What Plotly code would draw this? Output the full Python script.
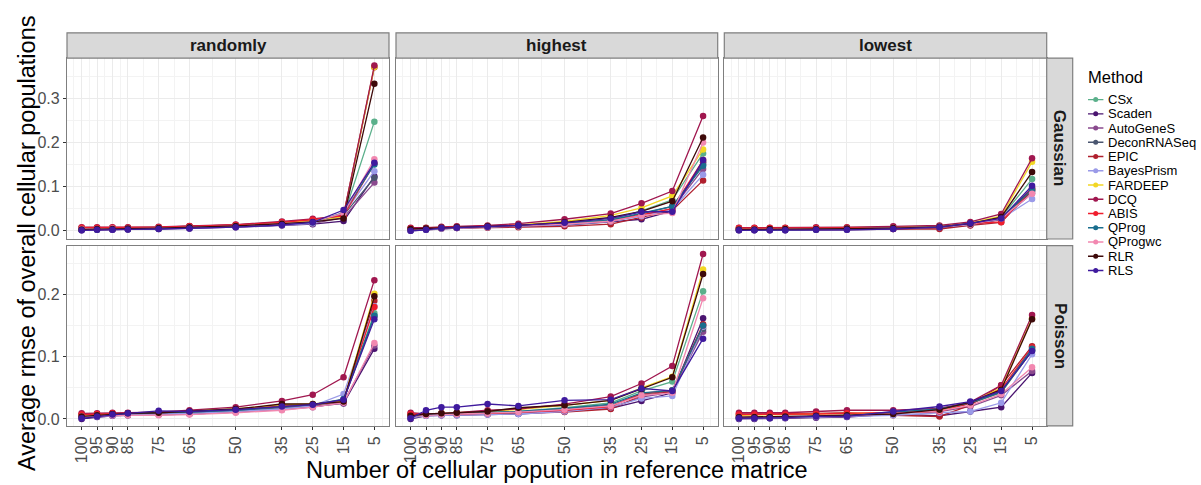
import plotly.graph_objects as go

# ---------------- data ----------------
N_CELLPOP = [100, 95, 90, 85, 75, 65, 50, 35, 25, 15, 5]
X_TICKS = [str(v) for v in N_CELLPOP]
X_MINOR = [102.5, 97.5, 92.5, 87.5, 80, 70, 57.5, 42.5, 30, 20, 10, 2.5]

METHODS = ["CSx", "Scaden", "AutoGeneS", "DeconRNASeq", "EPIC", "BayesPrism",
           "FARDEEP", "DCQ", "ABIS", "QProg", "QProgwc", "RLR", "RLS"]
COLORS = ["#5BB08B", "#4A1470", "#8A4A8E", "#4A5670", "#B0202E", "#9A9AE8",
          "#F2D624", "#A0174F", "#F01E2E", "#1A6E8E", "#F288B0", "#3E0A0A", "#3F1A9E"]

COLUMNS = ["randomly", "highest", "lowest"]
ROWS = ["Gaussian", "Poisson"]

# values per method (METHODS order) at N_CELLPOP
gaussian_randomly = [
    [0.004, 0.004, 0.005, 0.005, 0.006, 0.008, 0.011, 0.016, 0.020, 0.033, 0.247],
    [0.001, 0.002, 0.002, 0.003, 0.004, 0.005, 0.008, 0.012, 0.015, 0.022, 0.123],
    [0.002, 0.003, 0.003, 0.004, 0.005, 0.006, 0.009, 0.013, 0.016, 0.030, 0.109],
    [0.003, 0.003, 0.004, 0.004, 0.005, 0.007, 0.010, 0.014, 0.018, 0.035, 0.120],
    [0.006, 0.006, 0.007, 0.007, 0.008, 0.010, 0.013, 0.019, 0.024, 0.036, 0.370],
    [0.002, 0.003, 0.003, 0.004, 0.005, 0.006, 0.009, 0.013, 0.017, 0.038, 0.135],
    [0.005, 0.005, 0.006, 0.006, 0.007, 0.009, 0.012, 0.018, 0.023, 0.032, 0.371],
    [0.008, 0.008, 0.008, 0.008, 0.009, 0.011, 0.014, 0.021, 0.027, 0.035, 0.374],
    [0.007, 0.007, 0.007, 0.007, 0.008, 0.010, 0.013, 0.019, 0.025, 0.034, 0.152],
    [0.003, 0.003, 0.004, 0.004, 0.005, 0.007, 0.010, 0.015, 0.019, 0.041, 0.150],
    [0.004, 0.004, 0.005, 0.005, 0.006, 0.008, 0.011, 0.016, 0.020, 0.040, 0.162],
    [0.003, 0.004, 0.004, 0.005, 0.006, 0.008, 0.011, 0.016, 0.020, 0.028, 0.333],
    [0.001, 0.002, 0.002, 0.003, 0.004, 0.005, 0.008, 0.013, 0.019, 0.047, 0.154],
]
gaussian_highest = [
    [0.003, 0.005, 0.007, 0.008, 0.010, 0.012, 0.017, 0.025, 0.045, 0.070, 0.175],
    [0.000, 0.002, 0.005, 0.006, 0.008, 0.010, 0.013, 0.020, 0.026, 0.045, 0.155],
    [0.001, 0.003, 0.006, 0.007, 0.009, 0.011, 0.015, 0.022, 0.035, 0.050, 0.140],
    [0.002, 0.003, 0.006, 0.007, 0.009, 0.011, 0.016, 0.024, 0.038, 0.055, 0.150],
    [0.004, 0.004, 0.005, 0.006, 0.007, 0.008, 0.010, 0.015, 0.030, 0.046, 0.114],
    [0.001, 0.003, 0.005, 0.006, 0.008, 0.010, 0.014, 0.021, 0.033, 0.048, 0.127],
    [0.005, 0.006, 0.008, 0.009, 0.011, 0.013, 0.021, 0.035, 0.052, 0.079, 0.184],
    [0.007, 0.007, 0.009, 0.010, 0.012, 0.016, 0.026, 0.039, 0.062, 0.090, 0.260],
    [0.005, 0.005, 0.007, 0.008, 0.010, 0.012, 0.016, 0.022, 0.036, 0.050, 0.160],
    [0.002, 0.004, 0.006, 0.007, 0.009, 0.011, 0.016, 0.024, 0.040, 0.055, 0.147],
    [0.003, 0.004, 0.006, 0.007, 0.009, 0.011, 0.015, 0.022, 0.035, 0.040, 0.200],
    [0.004, 0.005, 0.007, 0.008, 0.010, 0.012, 0.019, 0.030, 0.044, 0.067, 0.211],
    [0.000, 0.002, 0.006, 0.007, 0.009, 0.012, 0.018, 0.028, 0.043, 0.043, 0.160],
]
gaussian_lowest = [
    [0.003, 0.003, 0.003, 0.003, 0.004, 0.004, 0.006, 0.008, 0.016, 0.030, 0.117],
    [0.001, 0.001, 0.001, 0.001, 0.002, 0.002, 0.004, 0.007, 0.013, 0.026, 0.097],
    [0.002, 0.002, 0.002, 0.002, 0.003, 0.003, 0.005, 0.008, 0.014, 0.025, 0.085],
    [0.002, 0.002, 0.002, 0.003, 0.003, 0.004, 0.005, 0.008, 0.015, 0.027, 0.090],
    [0.005, 0.005, 0.005, 0.005, 0.005, 0.006, 0.004, 0.004, 0.012, 0.019, 0.092],
    [0.002, 0.002, 0.002, 0.002, 0.003, 0.003, 0.005, 0.008, 0.014, 0.027, 0.072],
    [0.005, 0.005, 0.005, 0.006, 0.006, 0.007, 0.008, 0.011, 0.018, 0.033, 0.156],
    [0.007, 0.007, 0.007, 0.007, 0.008, 0.008, 0.010, 0.012, 0.020, 0.038, 0.164],
    [0.006, 0.006, 0.006, 0.006, 0.006, 0.007, 0.007, 0.009, 0.016, 0.020, 0.095],
    [0.002, 0.002, 0.003, 0.003, 0.003, 0.004, 0.006, 0.009, 0.016, 0.029, 0.093],
    [0.003, 0.003, 0.003, 0.004, 0.004, 0.005, 0.006, 0.009, 0.015, 0.028, 0.084],
    [0.003, 0.003, 0.004, 0.004, 0.004, 0.005, 0.006, 0.009, 0.016, 0.031, 0.133],
    [0.001, 0.001, 0.001, 0.001, 0.002, 0.002, 0.004, 0.008, 0.017, 0.028, 0.102],
]
poisson_randomly = [
    [0.003, 0.005, 0.007, 0.008, 0.009, 0.010, 0.013, 0.018, 0.022, 0.030, 0.170],
    [0.000, 0.003, 0.005, 0.006, 0.007, 0.008, 0.011, 0.016, 0.020, 0.025, 0.113],
    [0.002, 0.004, 0.006, 0.006, 0.007, 0.008, 0.011, 0.015, 0.019, 0.027, 0.118],
    [0.003, 0.005, 0.007, 0.008, 0.009, 0.010, 0.013, 0.019, 0.022, 0.030, 0.165],
    [0.007, 0.008, 0.009, 0.009, 0.010, 0.011, 0.015, 0.021, 0.023, 0.028, 0.190],
    [0.002, 0.004, 0.006, 0.007, 0.008, 0.009, 0.012, 0.016, 0.021, 0.040, 0.181],
    [0.006, 0.007, 0.008, 0.009, 0.010, 0.012, 0.016, 0.023, 0.024, 0.029, 0.201],
    [0.009, 0.009, 0.010, 0.010, 0.011, 0.014, 0.019, 0.029, 0.039, 0.067, 0.223],
    [0.007, 0.008, 0.009, 0.009, 0.010, 0.012, 0.015, 0.020, 0.023, 0.031, 0.180],
    [0.003, 0.005, 0.007, 0.008, 0.010, 0.011, 0.014, 0.020, 0.023, 0.032, 0.166],
    [0.004, 0.005, 0.006, 0.006, 0.006, 0.007, 0.010, 0.014, 0.019, 0.026, 0.122],
    [0.004, 0.006, 0.008, 0.009, 0.010, 0.012, 0.016, 0.024, 0.024, 0.028, 0.197],
    [0.001, 0.004, 0.007, 0.009, 0.013, 0.012, 0.015, 0.020, 0.023, 0.031, 0.160],
]
poisson_highest = [
    [0.003, 0.007, 0.008, 0.009, 0.010, 0.012, 0.018, 0.026, 0.045, 0.060, 0.205],
    [0.000, 0.005, 0.006, 0.006, 0.007, 0.008, 0.012, 0.017, 0.029, 0.042, 0.162],
    [0.002, 0.006, 0.006, 0.007, 0.008, 0.009, 0.013, 0.018, 0.035, 0.043, 0.140],
    [0.003, 0.007, 0.008, 0.009, 0.010, 0.011, 0.016, 0.022, 0.040, 0.045, 0.145],
    [0.007, 0.006, 0.007, 0.007, 0.008, 0.009, 0.011, 0.016, 0.038, 0.044, 0.152],
    [0.002, 0.005, 0.006, 0.006, 0.007, 0.008, 0.012, 0.019, 0.033, 0.037, 0.148],
    [0.006, 0.008, 0.009, 0.010, 0.013, 0.015, 0.022, 0.030, 0.050, 0.068, 0.240],
    [0.010, 0.008, 0.009, 0.010, 0.014, 0.016, 0.024, 0.036, 0.057, 0.085, 0.265],
    [0.008, 0.007, 0.008, 0.008, 0.009, 0.011, 0.014, 0.020, 0.041, 0.046, 0.150],
    [0.003, 0.007, 0.008, 0.009, 0.010, 0.012, 0.017, 0.024, 0.042, 0.046, 0.150],
    [0.004, 0.006, 0.007, 0.008, 0.009, 0.011, 0.015, 0.021, 0.038, 0.042, 0.194],
    [0.005, 0.008, 0.009, 0.010, 0.012, 0.018, 0.022, 0.030, 0.048, 0.067, 0.233],
    [0.001, 0.014, 0.019, 0.019, 0.024, 0.021, 0.030, 0.031, 0.049, 0.045, 0.129],
]
poisson_lowest = [
    [0.002, 0.002, 0.002, 0.003, 0.004, 0.004, 0.010, 0.015, 0.025, 0.042, 0.110],
    [0.000, 0.000, 0.001, 0.001, 0.002, 0.003, 0.008, 0.005, 0.012, 0.019, 0.074],
    [0.001, 0.001, 0.002, 0.002, 0.003, 0.004, 0.009, 0.012, 0.020, 0.038, 0.077],
    [0.002, 0.002, 0.002, 0.003, 0.004, 0.005, 0.010, 0.015, 0.025, 0.043, 0.110],
    [0.008, 0.008, 0.008, 0.008, 0.009, 0.010, 0.006, 0.004, 0.022, 0.054, 0.117],
    [0.001, 0.001, 0.002, 0.002, 0.003, 0.004, 0.006, 0.010, 0.012, 0.026, 0.104],
    [0.006, 0.006, 0.007, 0.007, 0.008, 0.009, 0.010, 0.013, 0.026, 0.050, 0.162],
    [0.010, 0.010, 0.010, 0.010, 0.012, 0.014, 0.014, 0.017, 0.027, 0.054, 0.167],
    [0.007, 0.007, 0.007, 0.007, 0.008, 0.009, 0.010, 0.012, 0.025, 0.048, 0.115],
    [0.002, 0.002, 0.003, 0.003, 0.004, 0.005, 0.011, 0.016, 0.026, 0.044, 0.113],
    [0.003, 0.003, 0.003, 0.003, 0.004, 0.005, 0.009, 0.013, 0.022, 0.040, 0.083],
    [0.003, 0.003, 0.003, 0.004, 0.005, 0.006, 0.008, 0.015, 0.027, 0.047, 0.160],
    [0.001, 0.001, 0.001, 0.002, 0.004, 0.004, 0.012, 0.020, 0.028, 0.045, 0.109],
]

PANELS = [[gaussian_randomly, gaussian_highest, gaussian_lowest],
          [poisson_randomly, poisson_highest, poisson_lowest]]

Y_TICKS_ROW = [[0.0, 0.1, 0.2, 0.3], [0.0, 0.1, 0.2]]
Y_MINOR_ROW = [[0.05, 0.15, 0.25, 0.35], [0.05, 0.15, 0.25]]
Y_RANGE_ROW = [[-0.0187, 0.391], [-0.0112, 0.2784]]
X_RANGE = [104.75, 0.25]

# ---------------- layout geometry (pixels) ----------------
W, H = 1201, 485
COL_PX = [(67, 389), (396, 717.7), (724.3, 1046.7)]
ROW_PX = [(58.3, 240), (246.7, 427.7)]
STRIP_TOP = 33
RSTRIP_RIGHT = 1072.7
FONT = "Liberation Sans, Arial, sans-serif"
BORDER = "#7F7F7F"


def px_x(v):
    return v / W


def px_y(v):
    return 1 - v / H


fig = go.Figure()
layout = dict(
    width=W, height=H, margin=dict(l=0, r=0, t=0, b=0),
    paper_bgcolor="white", plot_bgcolor="white",
    font=dict(family=FONT, color="#000000"),
    showlegend=False, shapes=[], annotations=[],
)

for r in range(2):
    for c in range(3):
        k = r * 3 + c + 1
        xa = "x" if k == 1 else f"x{k}"
        ya = "y" if k == 1 else f"y{k}"
        data = PANELS[r][c]
        for m, name in enumerate(METHODS):
            fig.add_trace(go.Scatter(
                x=N_CELLPOP, y=data[m], mode="lines+markers", name=name,
                line=dict(color=COLORS[m], width=1.3),
                marker=dict(color=COLORS[m], size=6.5),
                xaxis=xa, yaxis=ya, hoverinfo="skip", showlegend=False,
            ))
        xkey = "xaxis" if k == 1 else f"xaxis{k}"
        ykey = "yaxis" if k == 1 else f"yaxis{k}"
        layout[xkey] = dict(
            domain=[px_x(COL_PX[c][0]), px_x(COL_PX[c][1])],
            anchor=ya, range=X_RANGE,
            tickmode="array", tickvals=N_CELLPOP, ticktext=X_TICKS,
            showticklabels=(r == 1), tickangle=-90,
            ticks="outside" if r == 1 else "", ticklen=3, tickcolor="#333333", tickwidth=1,
            tickfont=dict(size=16, color="#4D4D4D", family=FONT),
            showgrid=True, gridcolor="#EBEBEB", gridwidth=1.1,
            minor=dict(tickmode="array", tickvals=X_MINOR, showgrid=True,
                       gridcolor="#F3F3F3", gridwidth=0.6),
            showline=True, mirror=True, linecolor=BORDER, linewidth=1.2,
            zeroline=False, fixedrange=True,
        )
        layout[ykey] = dict(
            domain=[px_y(ROW_PX[r][1]), px_y(ROW_PX[r][0])],
            anchor=xa, range=Y_RANGE_ROW[r],
            tickmode="array", tickvals=Y_TICKS_ROW[r],
            ticktext=[f"{v:.1f}" for v in Y_TICKS_ROW[r]],
            showticklabels=(c == 0),
            ticks="outside" if c == 0 else "", ticklen=3, tickcolor="#333333", tickwidth=1,
            tickfont=dict(size=16, color="#4D4D4D", family=FONT),
            showgrid=True, gridcolor="#EBEBEB", gridwidth=1.1,
            minor=dict(tickmode="array", tickvals=Y_MINOR_ROW[r], showgrid=True,
                       gridcolor="#F3F3F3", gridwidth=0.6),
            showline=True, mirror=True, linecolor=BORDER, linewidth=1.2,
            zeroline=False, fixedrange=True,
        )

# column strips (top)
for c, label in enumerate(COLUMNS):
    layout["shapes"].append(dict(
        type="rect", xref="paper", yref="paper",
        x0=px_x(COL_PX[c][0]), x1=px_x(COL_PX[c][1]),
        y0=px_y(ROW_PX[0][0]), y1=px_y(STRIP_TOP),
        fillcolor="#D9D9D9", line=dict(color=BORDER, width=1.2), layer="above"))
    layout["annotations"].append(dict(
        text=f"<b>{label}</b>", xref="paper", yref="paper",
        x=(px_x(COL_PX[c][0]) + px_x(COL_PX[c][1])) / 2,
        y=(px_y(ROW_PX[0][0]) + px_y(STRIP_TOP)) / 2,
        xanchor="center", yanchor="middle", showarrow=False,
        font=dict(size=17, color="#1A1A1A", family=FONT)))

# row strips (right)
for r, label in enumerate(ROWS):
    layout["shapes"].append(dict(
        type="rect", xref="paper", yref="paper",
        x0=px_x(COL_PX[2][1]), x1=px_x(RSTRIP_RIGHT),
        y0=px_y(ROW_PX[r][1]), y1=px_y(ROW_PX[r][0]),
        fillcolor="#D9D9D9", line=dict(color=BORDER, width=1.2), layer="above"))
    layout["annotations"].append(dict(
        text=f"<b>{label}</b>", xref="paper", yref="paper",
        x=(px_x(COL_PX[2][1]) + px_x(RSTRIP_RIGHT)) / 2,
        y=(px_y(ROW_PX[r][0]) + px_y(ROW_PX[r][1])) / 2,
        xanchor="center", yanchor="middle", showarrow=False, textangle=90,
        font=dict(size=17, color="#1A1A1A", family=FONT)))

# axis titles
layout["annotations"].append(dict(
    text="Number of cellular popution in reference matrice",
    xref="paper", yref="paper", x=px_x(557), y=px_y(472),
    xanchor="center", yanchor="middle", showarrow=False,
    font=dict(size=23.5, color="#000000", family=FONT)))
layout["annotations"].append(dict(
    text="Average rmse of overall cellular populations",
    xref="paper", yref="paper", x=px_x(27), y=px_y(245),
    xanchor="center", yanchor="middle", showarrow=False, textangle=-90,
    font=dict(size=23.5, color="#000000", family=FONT)))

# custom legend (drawn on its own hidden axes from METHODS/COLORS)
LEG_X0, LEG_X1 = 1085, 1201
LEG_FIRST, LEG_STEP = 100, 14.3
n = len(METHODS)
leg_top = LEG_FIRST - LEG_STEP / 2
leg_bot = LEG_FIRST + LEG_STEP * (n - 0.5)
key_x = [0] * n
fig.add_trace(go.Scatter(
    x=key_x, y=METHODS, mode="markers", xaxis="x7", yaxis="y7",
    marker=dict(symbol="line-ew-open", size=11, color=COLORS, line=dict(width=1.4)),
    hoverinfo="skip", showlegend=False))
fig.add_trace(go.Scatter(
    x=key_x, y=METHODS, mode="markers", xaxis="x7", yaxis="y7",
    marker=dict(symbol="circle", size=5, color=COLORS),
    hoverinfo="skip", showlegend=False))
for name in METHODS:
    layout["annotations"].append(dict(
        text=name, xref="x7", yref="y7", x=0, y=name, xanchor="left",
        yanchor="middle", xshift=10, showarrow=False,
        font=dict(size=13, color="#000000", family=FONT)))
layout["xaxis7"] = dict(domain=[px_x(LEG_X0), px_x(LEG_X1)], anchor="y7",
                        range=[-(1095.7 - LEG_X0), LEG_X1 - 1095.7], visible=False,
                        fixedrange=True)
layout["yaxis7"] = dict(domain=[px_y(leg_bot), px_y(leg_top)], anchor="x7",
                        type="category", categoryorder="array", categoryarray=METHODS,
                        range=[n - 0.5, -0.5], visible=False, fixedrange=True)
layout["annotations"].append(dict(
    text="Method", xref="paper", yref="paper", x=px_x(1086), y=px_y(77),
    xanchor="left", yanchor="middle", showarrow=False,
    font=dict(size=16.5, color="#000000", family=FONT)))

fig.update_layout(**layout)
fig.write_html("out.html", config={"displayModeBar": False})
